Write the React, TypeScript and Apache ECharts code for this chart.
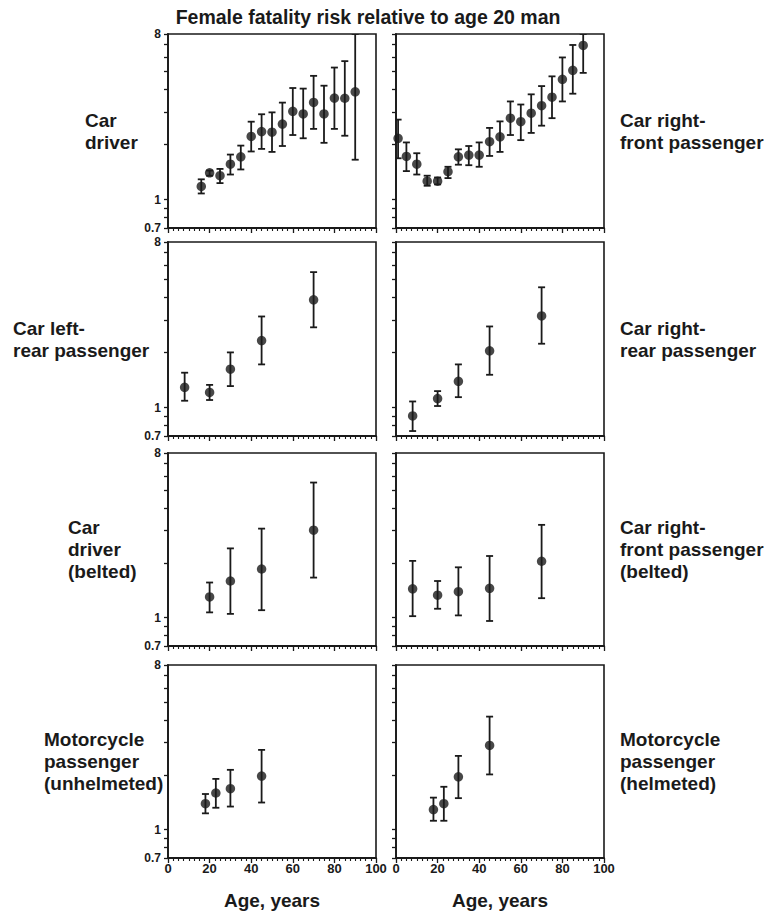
import React, { useEffect, useRef } from 'react';
import * as echarts from 'echarts';

// ---------- data (risk ratio, with 95% limits) ----------
const AGE_CAR_DRIVER = [16, 20, 25, 30, 35, 40, 45, 50, 55, 60, 65, 70, 75, 80, 85, 90];
const VAL_CAR_DRIVER = [1.18, 1.40, 1.35, 1.56, 1.71, 2.21, 2.35, 2.33, 2.58, 3.03, 2.93, 3.39, 2.93, 3.58, 3.57, 3.87];
const LO_CAR_DRIVER = [1.08, 1.35, 1.23, 1.37, 1.46, 1.83, 1.89, 1.82, 1.96, 2.25, 2.16, 2.43, 2.04, 2.43, 2.23, 1.65];
const HI_CAR_DRIVER = [1.29, 1.44, 1.47, 1.76, 1.97, 2.66, 2.92, 2.99, 3.38, 4.06, 4.03, 4.73, 4.18, 5.25, 5.69, 8.0];

const AGE_RF = [1, 5, 10, 15, 20, 25, 30, 35, 40, 45, 50, 55, 60, 65, 70, 75, 80, 85, 90];
const VAL_RF = [2.16, 1.72, 1.56, 1.26, 1.26, 1.42, 1.71, 1.75, 1.75, 2.07, 2.20, 2.78, 2.66, 2.96, 3.25, 3.62, 4.53, 5.07, 6.93];
const LO_RF = [1.68, 1.43, 1.37, 1.19, 1.21, 1.31, 1.55, 1.54, 1.51, 1.73, 1.82, 2.25, 2.11, 2.31, 2.53, 2.78, 3.43, 3.78, 4.91];
const HI_RF = [2.73, 2.05, 1.79, 1.35, 1.32, 1.51, 1.88, 1.96, 2.05, 2.46, 2.67, 3.43, 3.30, 3.75, 4.16, 4.70, 5.96, 6.97, 8.0];

const AGE_LR = [8, 20, 30, 45, 70];
const VAL_LR = [1.29, 1.21, 1.62, 2.32, 3.87];
const LO_LR = [1.09, 1.10, 1.31, 1.72, 2.74];
const HI_LR = [1.55, 1.33, 2.00, 3.14, 5.48];

const AGE_RR = [8, 20, 30, 45, 70];
const VAL_RR = [0.90, 1.12, 1.39, 2.04, 3.16];
const LO_RR = [0.745, 1.02, 1.14, 1.51, 2.23];
const HI_RR = [1.08, 1.23, 1.72, 2.77, 4.53];

const AGE_DB = [20, 30, 45, 70];
const VAL_DB = [1.30, 1.59, 1.85, 3.02];
const LO_DB = [1.07, 1.05, 1.10, 1.66];
const HI_DB = [1.56, 2.40, 3.08, 5.51];

const AGE_RFB = [8, 20, 30, 45, 70];
const VAL_RFB = [1.44, 1.33, 1.39, 1.45, 2.04];
const LO_RFB = [1.02, 1.12, 1.03, 0.96, 1.28];
const HI_RFB = [2.05, 1.59, 1.89, 2.18, 3.23];

const AGE_MU = [18, 23, 30, 45];
const VAL_MU = [1.39, 1.59, 1.68, 1.97];
const LO_MU = [1.23, 1.32, 1.34, 1.41];
const HI_MU = [1.57, 1.90, 2.13, 2.74];

const AGE_MH = [18, 23, 30, 45];
const VAL_MH = [1.29, 1.39, 1.95, 2.90];
const LO_MH = [1.12, 1.12, 1.49, 2.01];
const HI_MH = [1.50, 1.72, 2.54, 4.17];

const Y_TICKS = [0.7, 0.8, 0.9, 1, 2, 3, 4, 5, 6, 7, 8];
const Y_LABELS = [0.7, 1, 8];
const Y_MIN = 0.7;
const Y_MAX = 8;

const TITLE = 'Female fatality risk relative to age 20 man';
const X_NAME = 'Age, years';

const PANELS = [
  { age: AGE_CAR_DRIVER, val: VAL_CAR_DRIVER, lo: LO_CAR_DRIVER, hi: HI_CAR_DRIVER, label: 'Car\ndriver' },
  { age: AGE_RF, val: VAL_RF, lo: LO_RF, hi: HI_RF, label: 'Car right-\nfront passenger' },
  { age: AGE_LR, val: VAL_LR, lo: LO_LR, hi: HI_LR, label: 'Car left-\nrear passenger' },
  { age: AGE_RR, val: VAL_RR, lo: LO_RR, hi: HI_RR, label: 'Car right-\nrear passenger' },
  { age: AGE_DB, val: VAL_DB, lo: LO_DB, hi: HI_DB, label: 'Car\ndriver\n(belted)' },
  { age: AGE_RFB, val: VAL_RFB, lo: LO_RFB, hi: HI_RFB, label: 'Car right-\nfront passenger\n(belted)' },
  { age: AGE_MU, val: VAL_MU, lo: LO_MU, hi: HI_MU, label: 'Motorcycle\npassenger\n(unhelmeted)' },
  { age: AGE_MH, val: VAL_MH, lo: LO_MH, hi: HI_MH, label: 'Motorcycle\npassenger\n(helmeted)' },
];

// ---------- layout ----------
const COL_LEFT = [168, 396];
const COL_W = 208;
const ROW_TOP = [34, 242, 453, 665];
const ROW_H = [194, 194, 193, 193];
const LEFT_LABEL_X = [85, 13, 68, 44];
const RIGHT_LABEL_X = 620;

const INK = '#1a1a1a';
const FONT = '"Liberation Sans", Arial, Helvetica, sans-serif';
const lg = (v: number) => Math.log10(v);

export default function App() {
  const ref = useRef<HTMLDivElement>(null);

  useEffect(() => {
    if (!ref.current) return;
    const chart = echarts.init(ref.current, undefined, { renderer: 'svg' });

    const grids: any[] = [];
    const xAxes: any[] = [];
    const yAxes: any[] = [];
    const series: any[] = [];
    const graphics: any[] = [];

    PANELS.forEach((p, i) => {
      const row = Math.floor(i / 2);
      const col = i % 2;
      const bottomRow = row === 3;
      grids.push({
        left: COL_LEFT[col],
        top: ROW_TOP[row],
        width: COL_W,
        height: ROW_H[row],
        show: true,
        borderColor: INK,
        borderWidth: 1.6,
        backgroundColor: '#fff',
      });
      xAxes.push({
        type: 'value',
        gridIndex: i,
        position: 'bottom',
        min: 0,
        max: 100,
        interval: 20,
        axisLine: { show: true, onZero: false, lineStyle: { color: INK, width: 1.8 } },
        axisTick: { show: true, length: 5, lineStyle: { color: INK, width: 1.3 } },
        minorTick: { show: true, splitNumber: 8, length: 3, lineStyle: { color: INK, width: 1.1 } },
        splitLine: { show: false },
        axisLabel: {
          show: bottomRow,
          margin: 4,
          color: INK,
          fontFamily: FONT,
          fontWeight: 'bold',
          fontSize: 13,
        },
        name: bottomRow ? X_NAME : '',
        nameLocation: 'middle',
        nameGap: 33,
        nameTextStyle: { color: INK, fontFamily: FONT, fontWeight: 'bold', fontSize: 19 },
      });
      yAxes.push({
        type: 'value',
        gridIndex: i,
        position: 'left',
        min: lg(Y_MIN),
        max: lg(Y_MAX),
        axisLine: { show: true, onZero: false, lineStyle: { color: INK, width: 1.8 } },
        axisTick: {
          show: true,
          length: 4,
          customValues: Y_TICKS.map(lg),
          lineStyle: { color: INK, width: 1.3 },
        },
        splitLine: { show: false },
        axisLabel: {
          show: col === 0,
          customValues: Y_LABELS.map(lg),
          formatter: (v: number) => String(Math.round(Math.pow(10, v) * 10) / 10),
          margin: 7,
          color: INK,
          fontFamily: FONT,
          fontWeight: 'bold',
          fontSize: 12,
        },
      });

      const errData = p.age.map((a, k) => [a, lg(p.lo[k]), lg(p.hi[k])]);
      const ptData = p.age.map((a, k) => [a, lg(p.val[k])]);

      series.push({
        type: 'custom',
        xAxisIndex: i,
        yAxisIndex: i,
        data: errData,
        encode: { x: 0, y: [1, 2] },
        clip: true,
        z: 2,
        renderItem: (_params: any, api: any) => {
          const x = api.value(0);
          const pLo = api.coord([x, api.value(1)]);
          const pHi = api.coord([x, api.value(2)]);
          const hw = 3.5;
          const st = { stroke: INK, lineWidth: 1.8 };
          return {
            type: 'group',
            children: [
              { type: 'line', shape: { x1: pLo[0], y1: pLo[1], x2: pHi[0], y2: pHi[1] }, style: st },
              { type: 'line', shape: { x1: pLo[0] - hw, y1: pLo[1], x2: pLo[0] + hw, y2: pLo[1] }, style: st },
              { type: 'line', shape: { x1: pHi[0] - hw, y1: pHi[1], x2: pHi[0] + hw, y2: pHi[1] }, style: st },
            ],
          };
        },
      });
      series.push({
        type: 'scatter',
        xAxisIndex: i,
        yAxisIndex: i,
        data: ptData,
        symbol: 'circle',
        symbolSize: 9.5,
        itemStyle: { color: INK },
        z: 3,
      });

      const cy = ROW_TOP[row] + ROW_H[row] / 2;
      graphics.push({
        type: 'text',
        x: col === 0 ? LEFT_LABEL_X[row] : RIGHT_LABEL_X,
        y: cy,
        style: {
          text: p.label,
          fill: INK,
          font: `bold 19px ${FONT}`,
          lineHeight: 22,
          textAlign: 'left',
          textVerticalAlign: 'middle',
        },
      });
    });

    graphics.push({
      type: 'text',
      x: 368,
      y: 17,
      style: {
        text: TITLE,
        fill: INK,
        font: `bold 19.5px ${FONT}`,
        textAlign: 'center',
        textVerticalAlign: 'middle',
      },
    });

    chart.setOption({
      animation: false,
      backgroundColor: '#fff',
      grid: grids,
      xAxis: xAxes,
      yAxis: yAxes,
      series,
      graphic: graphics,
    });

    return () => chart.dispose();
  }, []);

  return (
    <div
      ref={ref}
      style={{ position: 'absolute', left: 0, top: 0, width: 772, height: 916, background: '#fff' }}
    />
  );
}
